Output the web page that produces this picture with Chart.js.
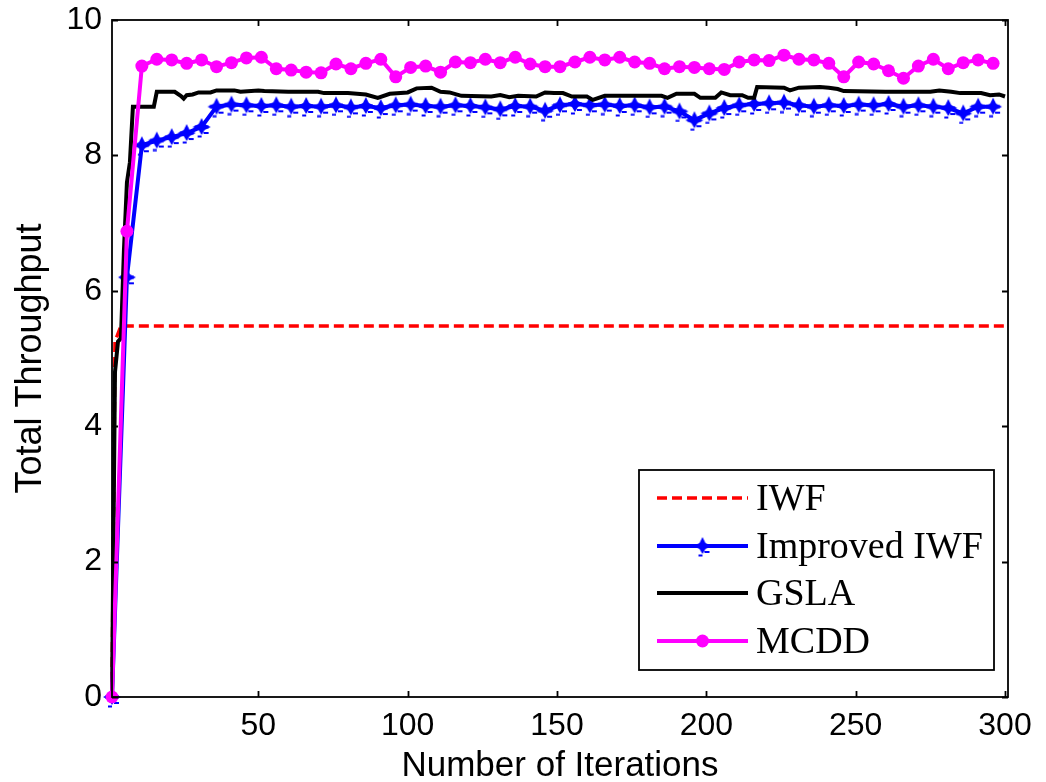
<!DOCTYPE html>
<html>
<head>
<meta charset="utf-8">
<script src="https://cdn.jsdelivr.net/npm/chart.js@4.4.1/dist/chart.umd.min.js"></script>
<style>
  html, body { margin: 0; padding: 0; background: #fff; }
  #wrap { width: 1046px; height: 782px; }
</style>
</head>
<body>
<div id="wrap"><canvas id="chart" width="1046" height="782"></canvas></div>
<script>
// ---- data ----
const seriesNames = ["IWF", "Improved IWF", "GSLA", "MCDD"];
const xTicks = [50, 100, 150, 200, 250, 300];
const yTicks = [0, 2, 4, 6, 8, 10];

const iwfX = [1, 2, 4, 300];
const iwfY = [0, 5.25, 5.48, 5.48];

// marker series are sampled every 5 iterations
const markX = [1, 6, 11, 16, 21, 26, 31, 36, 41, 46, 51, 56, 61, 66, 71, 76, 81, 86, 91, 96,
  101, 106, 111, 116, 121, 126, 131, 136, 141, 146, 151, 156, 161, 166, 171, 176, 181, 186, 191, 196,
  201, 206, 211, 216, 221, 226, 231, 236, 241, 246, 251, 256, 261, 266, 271, 276, 281, 286, 291, 296];

const improvedY = [0, 6.2, 8.15, 8.22, 8.27, 8.33, 8.42, 8.72, 8.75, 8.74, 8.73, 8.74, 8.72, 8.73, 8.72, 8.74, 8.71, 8.73, 8.70, 8.74,
  8.75, 8.73, 8.72, 8.74, 8.73, 8.71, 8.68, 8.73, 8.72, 8.66, 8.74, 8.76, 8.74, 8.75, 8.73, 8.74, 8.71, 8.72, 8.65, 8.52,
  8.62, 8.70, 8.74, 8.76, 8.77, 8.78, 8.74, 8.72, 8.74, 8.73, 8.75, 8.74, 8.76, 8.72, 8.74, 8.72, 8.70, 8.62, 8.72, 8.72];

const mcddY = [0, 6.88, 9.32, 9.42, 9.41, 9.36, 9.41, 9.31, 9.37, 9.44, 9.45, 9.28, 9.26, 9.23, 9.22, 9.35, 9.28, 9.36, 9.42, 9.16,
  9.30, 9.32, 9.23, 9.38, 9.37, 9.42, 9.37, 9.45, 9.35, 9.31, 9.31, 9.38, 9.45, 9.41, 9.45, 9.38, 9.36, 9.28, 9.31, 9.30,
  9.28, 9.27, 9.38, 9.41, 9.40, 9.48, 9.42, 9.41, 9.36, 9.16, 9.38, 9.35, 9.25, 9.14, 9.32, 9.42, 9.28, 9.37, 9.41, 9.36];

const gslaX = [1, 2, 3, 4, 5, 6, 7, 8, 15, 16, 22, 24, 25, 26, 28, 30, 34, 36, 42, 44, 50, 52, 60, 70, 72, 80, 86, 90, 94, 100,
  103, 108, 111, 114, 118, 128, 131, 134, 137, 143, 146, 149, 152, 155, 160, 162, 166, 185, 187, 190, 196, 198, 203, 205, 208,
  212, 214, 216, 217, 226, 228, 231, 238, 241, 244, 246, 260, 275, 278, 282, 285, 292, 295, 298, 300];
const gslaY = [0, 4.8, 5.25, 5.3, 6.6, 7.6, 7.9, 8.72, 8.72, 8.94, 8.94, 8.88, 8.84, 8.89, 8.9, 8.93, 8.93, 8.96, 8.96, 8.94, 8.96, 8.95, 8.94, 8.94, 8.92, 8.92, 8.9, 8.85, 8.91, 8.93,
  8.99, 9.0, 8.94, 8.93, 8.88, 8.87, 8.89, 8.86, 8.88, 8.87, 8.93, 8.92, 8.92, 8.87, 8.87, 8.82, 8.88, 8.88, 8.85, 8.91, 8.91, 8.85, 8.85, 8.93, 8.89,
  8.89, 8.85, 8.85, 9.01, 9.0, 8.96, 9.0, 9.01, 9.0, 8.98, 8.95, 8.94, 8.94, 8.96, 8.94, 8.92, 8.92, 8.89, 8.9, 8.87];

const toPoints = (xs, ys) => xs.map((x, i) => ({ x: x, y: ys[i] }));

// blue star/diamond marker with little error-bar dashes, as in the figure
function makeStarMarker(color) {
  const c = document.createElement("canvas");
  c.width = 22; c.height = 22;
  const g = c.getContext("2d");
  g.fillStyle = color;
  g.beginPath();
  g.moveTo(11, 2); g.lineTo(14, 8); g.lineTo(20, 11); g.lineTo(14, 14);
  g.lineTo(11, 19); g.lineTo(8, 14); g.lineTo(2, 11); g.lineTo(8, 8);
  g.closePath();
  g.fill();
  g.fillRect(4, 9.5, 14, 3);
  g.fillRect(13, 16, 5, 2);
  g.fillRect(7, 19.5, 4, 2);
  return c;
}
const starMarker = makeStarMarker("#0000ff");

const TICK_FONT = "'Liberation Sans', Arial, sans-serif";

// box and inward ticks on all four sides, MATLAB style
const framePlugin = {
  id: "frame",
  afterDatasetsDraw(chart) {
    const { ctx, chartArea: a, scales } = chart;
    const len = 6;
    ctx.save();
    ctx.strokeStyle = "#000";
    ctx.lineWidth = 1.8;
    ctx.strokeRect(a.left, a.top, a.right - a.left, a.bottom - a.top);
    ctx.beginPath();
    xTicks.forEach(v => {
      const px = Math.round(scales.x.getPixelForValue(v)) + 0.5;
      ctx.moveTo(px, a.bottom); ctx.lineTo(px, a.bottom - len);
      ctx.moveTo(px, a.top); ctx.lineTo(px, a.top + len);
    });
    yTicks.forEach(v => {
      const py = Math.round(scales.y.getPixelForValue(v)) + 0.5;
      ctx.moveTo(a.left, py); ctx.lineTo(a.left + len, py);
      ctx.moveTo(a.right, py); ctx.lineTo(a.right - len, py);
    });
    ctx.stroke();
    ctx.restore();
  }
};

// legend box in the lower right of the axes
const legendPlugin = {
  id: "boxLegend",
  afterDraw(chart) {
    const { ctx, chartArea: a } = chart;
    const boxL = a.right - 369, boxT = a.bottom - 227, boxW = 355, boxH = 200;
    const rows = [498, 546, 593, 641].map(y => y - 697 + a.bottom);
    ctx.save();
    ctx.fillStyle = "#fff";
    ctx.fillRect(boxL, boxT, boxW, boxH);
    ctx.strokeStyle = "#000";
    ctx.lineWidth = 1.8;
    ctx.strokeRect(boxL, boxT, boxW, boxH);
    chart.data.datasets.forEach((ds, i) => {
      const y = rows[i];
      const x0 = boxL + 18, x1 = boxL + 109;
      ctx.strokeStyle = ds.borderColor;
      ctx.lineWidth = ds.borderWidth;
      ctx.setLineDash(ds.borderDash || []);
      ctx.beginPath();
      ctx.moveTo(x0, y); ctx.lineTo(x1, y);
      ctx.stroke();
      ctx.setLineDash([]);
      const mx = (x0 + x1) / 2;
      if (ds.pointStyle === "circle" && ds.pointRadius > 0) {
        ctx.fillStyle = ds.pointBackgroundColor;
        ctx.beginPath();
        ctx.arc(mx, y, ds.pointRadius, 0, Math.PI * 2);
        ctx.fill();
      } else if (ds.pointStyle instanceof HTMLCanvasElement) {
        ctx.drawImage(ds.pointStyle, mx - 11, y - 11);
      }
      ctx.fillStyle = "#000";
      ctx.font = "38px 'Liberation Serif', 'Times New Roman', serif";
      ctx.textBaseline = "middle";
      ctx.fillText(ds.label, boxL + 117, y + 2);
    });
    ctx.restore();
  }
};

const datasets = [
  {
    label: seriesNames[0],
    data: toPoints(iwfX, iwfY),
    borderColor: "#ff0000",
    borderWidth: 3.5,
    borderDash: [10, 5],
    pointRadius: 0,
    order: 4
  },
  {
    label: seriesNames[1],
    data: toPoints(markX, improvedY),
    borderColor: "#0000ff",
    borderWidth: 4,
    pointStyle: starMarker,
    pointRadius: 11,
    order: 3
  },
  {
    label: seriesNames[2],
    data: toPoints(gslaX, gslaY),
    borderColor: "#000000",
    borderWidth: 4,
    pointRadius: 0,
    order: 2
  },
  {
    label: seriesNames[3],
    data: toPoints(markX, mcddY),
    borderColor: "#ff00ff",
    borderWidth: 4,
    pointStyle: "circle",
    pointRadius: 6.5,
    pointBackgroundColor: "#ff00ff",
    pointBorderColor: "#ff00ff",
    pointBorderWidth: 0,
    order: 1
  }
];

new Chart(document.getElementById("chart"), {
  type: "line",
  data: { datasets: datasets },
  options: {
    responsive: false,
    animation: false,
    devicePixelRatio: 1,
    clip: false,
    elements: { line: { tension: 0 } },
    layout: { padding: { left: 0, top: 20, right: 38, bottom: -5 } },
    plugins: { legend: { display: false }, tooltip: { enabled: false } },
    scales: {
      x: {
        type: "linear",
        min: 1,
        max: 301,
        afterBuildTicks: s => { s.ticks = xTicks.map(v => ({ value: v })); },
        afterFit: s => { s.height = 90; s.paddingLeft = 0; s.paddingRight = 0; },
        grid: { display: false, drawTicks: false },
        border: { display: false },
        ticks: { color: "#000", padding: 10, maxRotation: 0, font: { family: TICK_FONT, size: 32 } },
        title: {
          display: true, text: "Number of Iterations", color: "#000",
          padding: { top: 0, bottom: 0 },
          font: { family: TICK_FONT, size: 35 }
        }
      },
      y: {
        min: 0,
        max: 10,
        afterBuildTicks: s => { s.ticks = yTicks.map(v => ({ value: v })); },
        afterFit: s => { s.width = 112; s.paddingTop = 0; s.paddingBottom = 0; },
        grid: { display: false, drawTicks: false },
        border: { display: false },
        ticks: { color: "#000", padding: 10, font: { family: TICK_FONT, size: 32 } },
        title: {
          display: true, text: "Total Throughput", color: "#000",
          padding: { top: 9, bottom: 0 },
          font: { family: TICK_FONT, size: 36 }
        }
      }
    }
  },
  plugins: [framePlugin, legendPlugin]
});
</script>
</body>
</html>
